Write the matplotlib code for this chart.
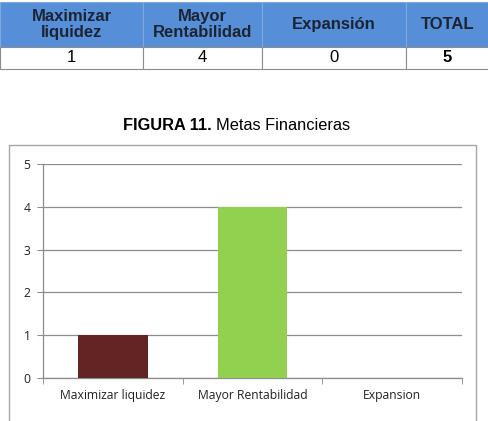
import numpy as np
import matplotlib.pyplot as plt
from matplotlib.patches import Rectangle

# datos
categorias = ['Maximizar liquidez', 'Mayor Rentabilidad', 'Expansion']
valores = [1, 4, 0]
colores = ['#632523', '#92D050', '#4F81BD']
encabezados = ['Maximizar\nliquidez', 'Mayor\nRentabilidad', 'Expansión', 'TOTAL']
fila_tabla = ['1', '4', '0', str(sum(valores))]

W, H = 489, 421
fig = plt.figure(figsize=(W / 100, H / 100), dpi=100)

def fx(px):
    return px / W

def fy(py):
    return 1 - py / H

# tabla superior
cols = [0, 143, 262, 406, 489]
for i in range(4):
    x0, x1 = cols[i], cols[i + 1]
    fig.patches.append(Rectangle((fx(x0), fy(47)), fx(x1 - x0), (47 - 2) / H,
                                 transform=fig.transFigure, facecolor='#568FD7',
                                 edgecolor='#7FA8E0', lw=0.8, zorder=-2))
    fig.text(fx((x0 + x1) / 2), fy(24.5), encabezados[i], ha='center', va='center',
             fontsize=12, fontweight='bold', family='Liberation Sans',
             color='#1C2433', linespacing=1.1)
    fig.patches.append(Rectangle((fx(x0), fy(69)), fx(x1 - x0), (69 - 47) / H,
                                 transform=fig.transFigure, facecolor='white',
                                 edgecolor='#8C8C8C', lw=0.8, zorder=-2))
    fig.text(fx((x0 + x1) / 2), fy(58), fila_tabla[i], ha='center', va='center',
             fontsize=12, family='Liberation Sans', color='black',
             fontweight='bold' if i == 3 else 'normal')

# titulo
fig.text(fx(212), fy(125), 'FIGURA 11.', ha='right', va='center', fontsize=11.8,
         fontweight='bold', family='Liberation Sans')
fig.text(fx(216), fy(125), 'Metas Financieras', ha='left', va='center', fontsize=11.8,
         family='Liberation Sans')

# marco del grafico
fig.patches.append(Rectangle((fx(9), -0.02), fx(467), fy(145) + 0.02,
                             transform=fig.transFigure, facecolor='white',
                             edgecolor='#A6A6A6', lw=1.0, zorder=-2))

ax = fig.add_axes([fx(43), fy(378), fx(462 - 43), (378 - 164) / H])
ax.set_zorder(2)
ax.patch.set_alpha(0)
x = np.arange(len(categorias))
ax.bar(x, valores, width=0.5, color=colores, zorder=3)
ax.set_xlim(-0.5, 2.5)
ax.set_ylim(0, 5)
ax.set_yticks(range(6))
ax.yaxis.grid(True, color='#8C8C8C', lw=0.9, zorder=0)
ax.set_xticks(x)
ax.set_xticklabels(categorias, fontsize=8.7, family='Open Sans', color='#222222')
ax.set_xticks([-0.5, 0.5, 1.5, 2.5], minor=True)
ax.tick_params(axis='x', which='major', length=0, pad=8)
ax.tick_params(axis='x', which='minor', length=4, color='#8C8C8C')
ax.tick_params(axis='y', length=4, color='#8C8C8C', labelsize=8.7, pad=5)
for t in ax.get_yticklabels():
    t.set_family('Open Sans')
    t.set_color('#222222')
for s in ['top', 'right']:
    ax.spines[s].set_visible(False)
for s in ['left', 'bottom']:
    ax.spines[s].set_color('#8C8C8C')
    ax.spines[s].set_linewidth(0.9)

fig.savefig('out.png', dpi=100)
